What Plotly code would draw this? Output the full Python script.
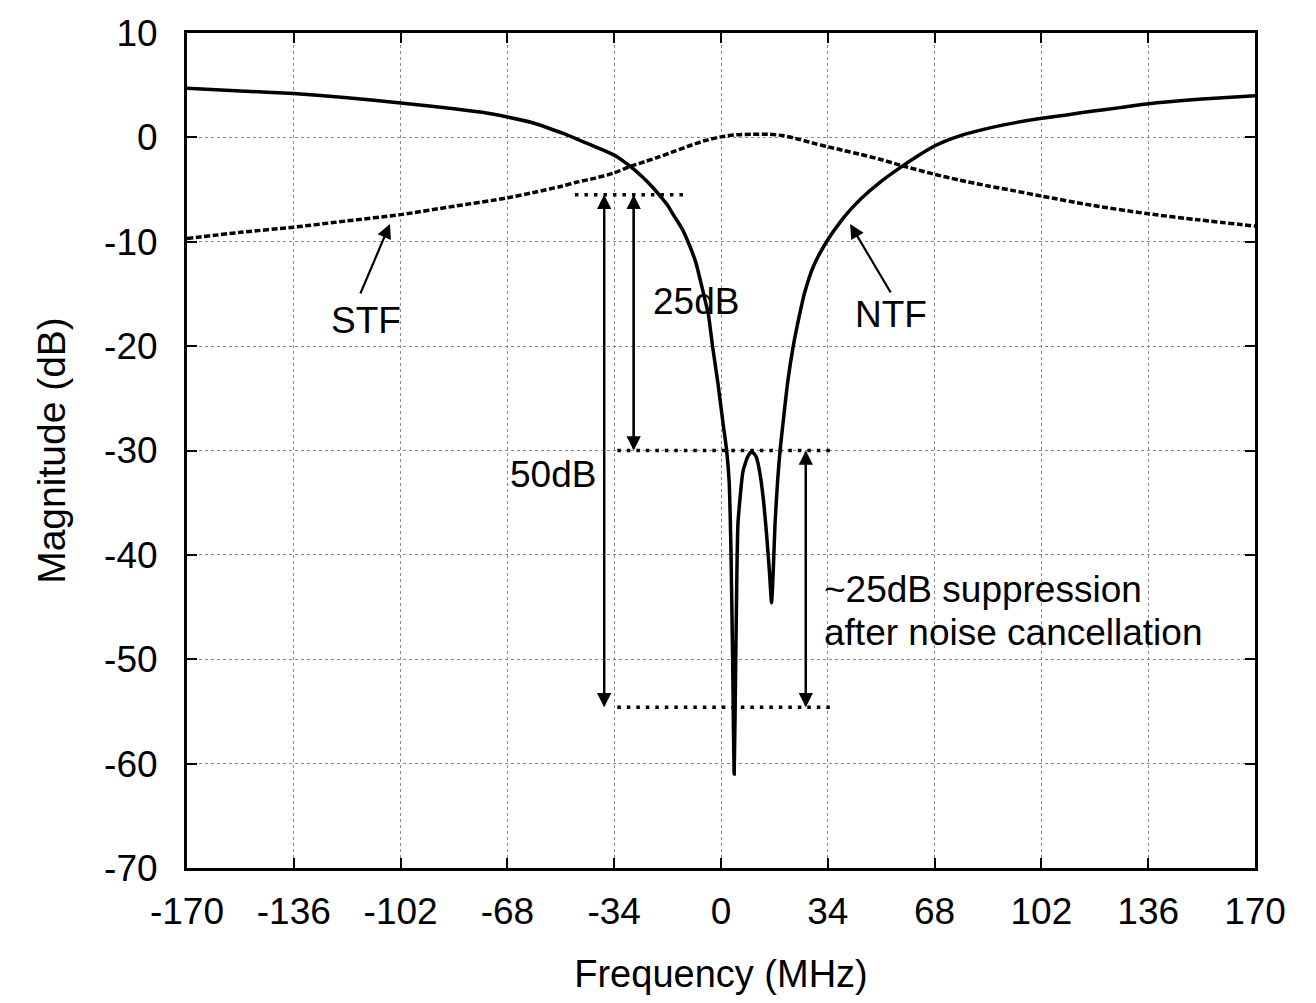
import plotly.graph_objects as go

# ---------------- data ----------------
ntf_f = [-170, -153, -136, -119, -102, -85, -76, -68, -60, -55, -50, -46, -42, -38, -34, -31, -28, -25,
         -22, -19.4, -17, -15, -12.5, -10.5, -8, -5.7, -4, -2.7, -1, 0.7, 1.8, 2.6, 3.2, 3.7, 4.2,
         4.7, 5.0, 5.4, 7.0, 8.5, 9.8, 11.2, 12.4, 13.6, 14.5, 15.4, 16.1, 16.7, 17.2, 18.0, 18.8,
         19.7, 21.2, 23.0, 25.0, 26.7, 29.5, 33.6, 38.0, 41.0, 44.8, 50.6, 57.5, 62.0, 67.5, 71,
         76, 82, 90, 101.6, 110, 118, 127, 135.5, 152, 170]
ntf_db = [4.7, 4.45, 4.2, 3.8, 3.3, 2.75, 2.4, 1.95, 1.4, 0.9, 0.35, -0.15, -0.65, -1.15, -1.7, -2.3, -3.0, -3.8,
          -4.7, -5.6, -6.5, -7.5, -8.7, -10.0, -12.0, -14.8, -17.0, -20.0, -23.5, -27.5, -30.0, -33.0, -40.0, -50.0, -61.0,
          -50.0, -43.0, -37.0, -32.0, -30.6, -30.1, -30.6, -32.2, -35.0, -38.0, -41.5, -44.6, -41.0, -37.0, -33.0, -30.0,
          -27.5, -23.5, -20.0, -17.0, -14.8, -12.3, -10.0, -8.1, -7.0, -5.8, -4.3, -2.8, -1.9, -0.9, -0.4,
          0.15, 0.65, 1.2, 1.8, 2.15, 2.5, 2.85, 3.2, 3.65, 4.0]

stf_f = [-170, -153, -136, -119, -102, -85, -68, -60, -51, -46, -40, -34, -29, -24, -20, -15, -10, -5,
         0, 5, 10, 15, 20, 25, 30, 34, 39, 44, 50.6, 57.5, 67.5, 76, 85, 93, 101.6, 118, 135.5, 152, 170]
stf_db = [-9.7, -9.1, -8.6, -8.0, -7.4, -6.6, -5.8, -5.3, -4.7, -4.3, -3.9, -3.4, -2.8, -2.3, -1.9, -1.35, -0.8, -0.3,
          0.05, 0.25, 0.3, 0.3, 0.15, -0.2, -0.6, -0.9, -1.25, -1.6, -2.1, -2.7, -3.5, -4.1, -4.65, -5.1, -5.6, -6.5, -7.3, -7.9, -8.5]

x_ticks = [-170, -136, -102, -68, -34, 0, 34, 68, 102, 136, 170]
y_ticks = [-70, -60, -50, -40, -30, -20, -10, 0, 10]

# reference levels of the annotation (dB) and their spans (MHz)
level_top = -5.5
level_mid = -30.0
level_bot = -54.6
span_top = [-46.5, -12.0]
span_mid = [-33.0, 35.5]
span_bot = [-33.0, 35.5]

# double-arrow positions (MHz)
arrow_50db_f = -37.2
arrow_25db_f = -27.8
arrow_supp_f = 27.0

FONT = "Liberation Sans, Arial, Helvetica, sans-serif"
FS = 37

fig = go.Figure()

# reference dotted levels
for span, lvl in [(span_top, level_top), (span_mid, level_mid), (span_bot, level_bot)]:
    fig.add_trace(go.Scatter(x=span, y=[lvl, lvl], mode="lines",
                             line=dict(color="black", width=3.5, dash="3.5px,6px"),
                             hoverinfo="skip", showlegend=False))

fig.add_trace(go.Scatter(x=stf_f, y=stf_db, mode="lines", name="STF",
                         line=dict(color="black", width=3.5, dash="6px,2.5px", shape="spline", smoothing=0.8),
                         showlegend=False))
fig.add_trace(go.Scatter(x=ntf_f, y=ntf_db, mode="lines", name="NTF",
                         line=dict(color="black", width=3.5, shape="spline", smoothing=0.5),
                         showlegend=False))

annotations = []


def double_arrow(f, y0, y1):
    annotations.append(dict(x=f, y=y1, ax=f, ay=y0, xref="x", yref="y", axref="x", ayref="y",
                            showarrow=True, arrowhead=2, arrowsize=1.3, arrowwidth=2.2,
                            arrowcolor="black", text=""))


double_arrow(arrow_50db_f, level_top, level_bot)
double_arrow(arrow_50db_f, level_bot, level_top)
double_arrow(arrow_25db_f, level_top, level_mid)
double_arrow(arrow_25db_f, level_mid, level_top)
double_arrow(arrow_supp_f, level_mid, level_bot)
double_arrow(arrow_supp_f, level_bot, level_mid)

# label arrows
annotations.append(dict(x=-105.4, y=-8.3, ax=-115.0, ay=-15.1, xref="x", yref="y", axref="x", ayref="y",
                        showarrow=True, arrowhead=2, arrowsize=1.3, arrowwidth=2.2, arrowcolor="black", text=""))
annotations.append(dict(x=41.1, y=-8.3, ax=54.3, ay=-15.0, xref="x", yref="y", axref="x", ayref="y",
                        showarrow=True, arrowhead=2, arrowsize=1.3, arrowwidth=2.2, arrowcolor="black", text=""))

texts = [
    ("STF", -112.9, -17.5, "center"),
    ("NTF", 54.1, -17.0, "center"),
    ("25dB", -8.0, -15.7, "center"),
    ("50dB", -53.6, -32.3, "center"),
    ("~25dB suppression", 32.2, -43.3, "left"),
    ("after noise cancellation", 32.2, -47.4, "left"),
]
for t, x, y, anc in texts:
    annotations.append(dict(x=x, y=y, xref="x", yref="y", text=t, showarrow=False,
                            xanchor=anc, yanchor="middle", font=dict(family=FONT, size=FS, color="black")))

# the page body adds an 8px offset; figure sized to fit the window
fig.update_layout(
    width=1300, height=987,
    margin=dict(l=179, r=53, t=25, b=127, autoexpand=False),
    paper_bgcolor="white", plot_bgcolor="white",
    font=dict(family=FONT, size=FS, color="black"),
    annotations=annotations,
    showlegend=False,
)

fig.update_xaxes(range=[-170, 170], tickvals=x_ticks, ticktext=[str(v) for v in x_ticks],
                 showgrid=True, gridcolor="#8a8a8a", gridwidth=1, griddash="dot",
                 zeroline=False, showline=True, linecolor="black", linewidth=3, mirror="ticks",
                 ticks="inside", ticklen=10, tickwidth=2, tickcolor="black", automargin=False,
                 ticklabeloverflow="allow",
                 tickfont=dict(family=FONT, size=FS), ticklabelstandoff=9,
                 title=dict(text="Frequency (MHz)", font=dict(family=FONT, size=38), standoff=32))
fig.update_yaxes(range=[-70, 10], tickvals=y_ticks, ticktext=[str(v) for v in y_ticks],
                 showgrid=True, gridcolor="#8a8a8a", gridwidth=1, griddash="dot",
                 zeroline=False, showline=True, linecolor="black", linewidth=3, mirror="ticks",
                 ticks="inside", ticklen=10, tickwidth=2, tickcolor="black", automargin=False,
                 ticklabeloverflow="allow",
                 tickfont=dict(family=FONT, size=FS), ticklabelstandoff=19,
                 title=dict(text="Magnitude (dB)", font=dict(family=FONT, size=39), standoff=27))

fig.write_html("out.html")
